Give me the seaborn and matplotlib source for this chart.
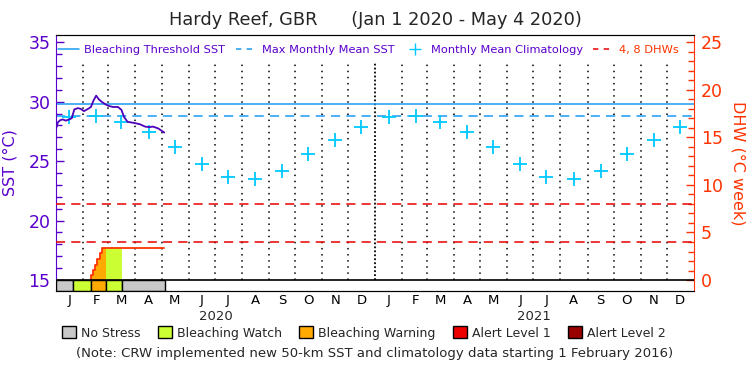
import matplotlib
matplotlib.use("Agg")
import matplotlib.pyplot as plt
import matplotlib.dates as mdates
import matplotlib.transforms as mtransforms
from matplotlib.lines import Line2D
from matplotlib.patches import Patch
import numpy as np
import pandas as pd
import seaborn as sns

# daily SST (deg C)
sst_dates = ["2020-01-01", "2020-01-03", "2020-01-06", "2020-01-09", "2020-01-12",
             "2020-01-16", "2020-01-19", "2020-01-22", "2020-01-26", "2020-01-29",
             "2020-02-02", "2020-02-07", "2020-02-10", "2020-02-13", "2020-02-16",
             "2020-02-19", "2020-02-22", "2020-02-26", "2020-03-01", "2020-03-06",
             "2020-03-12", "2020-03-16", "2020-03-19", "2020-03-23", "2020-03-31",
             "2020-04-06", "2020-04-12", "2020-04-17", "2020-04-21", "2020-04-27",
             "2020-05-02", "2020-05-04"]
sst_values = [27.7, 28.25, 28.45, 28.5, 28.4,
              28.5, 28.6, 29.35, 29.45, 29.4,
              29.2, 29.4, 29.55, 30.1, 30.5,
              30.2, 30.0, 29.8, 29.65, 29.55,
              29.55, 29.3, 28.7, 28.3, 28.2,
              28.1, 27.9, 27.85, 27.9, 27.75,
              27.5, 27.4]

# monthly mean climatology (same for both years)
month_letters = ["J", "F", "M", "A", "M", "J", "J", "A", "S", "O", "N", "D"]
clim_monthly = [28.72, 28.78, 28.25, 27.41, 26.15, 24.72,
                23.68, 23.5, 24.2, 25.58, 26.8, 27.83]
years = [2020, 2021]

mmm = 28.78
bleaching_threshold = mmm + 1.0

# degree heating weeks (step values)
dhw_dates = ["2020-02-10", "2020-02-10", "2020-02-12", "2020-02-15", "2020-02-17",
             "2020-02-20", "2020-02-23", "2020-02-27", "2020-03-17", "2020-05-04"]
dhw_values = [0.0, 0.53, 1.05, 1.58, 2.17, 2.8, 3.33, 3.33, 3.33, 3.33]
dhw_levels = [4, 8]

# stress level periods
stress_starts = ["2020-01-01", "2020-01-21", "2020-02-10", "2020-02-27", "2020-03-17"]
stress_ends = ["2020-01-21", "2020-02-10", "2020-02-27", "2020-03-17", "2020-05-05"]
stress_names = ["No Stress", "Bleaching Watch", "Bleaching Warning", "Bleaching Watch", "No Stress"]

legend_names = ["No Stress", "Bleaching Watch", "Bleaching Warning", "Alert Level 1", "Alert Level 2"]
stress_colors = {"No Stress": "#c8c8c8", "Bleaching Watch": "#ccff33",
                 "Bleaching Warning": "#ffaa00", "Alert Level 1": "#ee0000",
                 "Alert Level 2": "#990000"}

purple = "#5a00cc"
sst_purple = "#4e00bb"
orange_red = "#ff3300"
blue = "#1a9bf0"
cyan = "#00c8ff"
dash_red = "#e60000"

sns.set_style("white")
plt.rcParams["font.family"] = ["DejaVu Sans"]

sst_lo, sst_hi = 14.08, 35.6


def to_dhw(v):
    return (v - 15) * 1.25


fig = plt.figure(figsize=(7.5, 3.75), dpi=100)
ax = fig.add_axes([0.0747, 0.224, 0.8506, 0.6827])
ax2 = ax.twinx()

x_start = pd.Timestamp("2020-01-01")
x_end = pd.Timestamp("2022-01-01")
ax.set_xlim(x_start, x_end)
ax.set_ylim(sst_lo, sst_hi)
ax2.set_ylim(to_dhw(sst_lo), to_dhw(sst_hi))

# month grid lines
month_starts = pd.date_range("2020-02-01", "2021-12-01", freq="MS")
for d in month_starts:
    if d.month == 1:
        ax.vlines(d, 15, 33.3, colors="black", linestyles=(0, (1, 1.2)), linewidth=1.3)
    else:
        ax.vlines(d, 15, 33.3, colors="black", linestyles=(0, (1, 3)), linewidth=1.1)

# threshold lines
ax.axhline(bleaching_threshold, color=blue, linewidth=1.1)
ax.axhline(mmm, color=blue, linewidth=1.1, linestyle=(0, (6, 4)))

# climatology crosses
clim_df = pd.DataFrame({
    "date": [pd.Timestamp(y, m + 1, 16) for y in years for m in range(12)],
    "sst": clim_monthly * len(years),
})
sns.scatterplot(data=clim_df, x="date", y="sst", ax=ax, marker="+", s=110,
                color=cyan, linewidth=1.3, zorder=3)

# SST line
sst_df = pd.DataFrame({"date": pd.to_datetime(sst_dates), "sst": sst_values})
sns.lineplot(data=sst_df, x="date", y="sst", ax=ax, color=sst_purple, linewidth=1.3, zorder=4)

# DHW level lines
for lev in dhw_levels:
    ax2.axhline(lev, color=dash_red, linewidth=1.1, linestyle=(0, (6, 4)))

# DHW fill coloured by stress level
dhw_x = pd.to_datetime(dhw_dates)
dhw_y = np.array(dhw_values)
for s, e, name in zip(stress_starts, stress_ends, stress_names):
    if name == "No Stress":
        continue
    mask = (dhw_x >= pd.Timestamp(s)) & (dhw_x <= pd.Timestamp(e))
    if mask.sum() > 1:
        ax2.fill_between(dhw_x[mask], 0, dhw_y[mask], step="post",
                         color=stress_colors[name], linewidth=0, zorder=2)

ax2.plot(dhw_x, dhw_y, drawstyle="steps-post", color=orange_red, linewidth=1.3, zorder=3)

# stress bar along the bottom
for s, e, name in zip(stress_starts, stress_ends, stress_names):
    s_t, e_t = pd.Timestamp(s), pd.Timestamp(e)
    ax2.bar(s_t, to_dhw(15) - to_dhw(sst_lo), width=(e_t - s_t).days, bottom=to_dhw(sst_lo),
            align="edge", color=stress_colors[name], edgecolor="black", linewidth=1, zorder=2)
ax2.axhline(0, color="black", linewidth=1.2, zorder=4)

# axes styling
for a in (ax, ax2):
    a.grid(False)
    a.set_xlabel("")
    a.spines["top"].set_color("black")
    a.spines["bottom"].set_color("black")
ax.spines["left"].set_color(purple)
ax2.spines["left"].set_visible(False)
ax2.spines["right"].set_color(orange_red)
ax.spines["right"].set_visible(False)

ax.set_yticks([15, 20, 25, 30, 35])
ax.set_yticks(np.arange(15, 36, 1), minor=True)
ax.tick_params(axis="y", which="both", direction="in", colors=purple, labelsize=12.5, pad=4)
ax.tick_params(axis="y", which="major", length=6, width=1)
ax.tick_params(axis="y", which="minor", length=4, width=1)
ax.set_ylabel("SST (°C)", color=purple, fontsize=11.5, labelpad=8)

ax2.set_yticks([0, 5, 10, 15, 20, 25])
ax2.set_yticks(np.arange(0, 26, 1), minor=True)
ax2.tick_params(axis="y", which="both", direction="in", colors=orange_red, labelsize=12.5, pad=5)
ax2.tick_params(axis="y", which="major", length=6, width=1)
ax2.tick_params(axis="y", which="minor", length=4, width=1)
ax2.set_ylabel("DHW (°C week)", color=orange_red, fontsize=11.5, rotation=270, labelpad=16)

ax.xaxis.set_major_locator(mdates.MonthLocator())
ax.xaxis.set_major_formatter(plt.NullFormatter())
ax.xaxis.set_minor_locator(mdates.MonthLocator(bymonthday=16))
ax.xaxis.set_minor_formatter(plt.FuncFormatter(lambda v, p: month_letters[mdates.num2date(v).month - 1]))
ax.tick_params(axis="x", which="both", length=0, labelsize=9.5, pad=2, colors="black")

trans = mtransforms.blended_transform_factory(ax.transData, ax.transAxes)
for y in years:
    ax.text(pd.Timestamp(y, 7, 2), -0.1, str(y), transform=trans, ha="center", va="center",
            fontsize=9.5)

fig.text(0.5, 0.947, "Hardy Reef, GBR      (Jan 1 2020 - May 4 2020)", ha="center",
         va="center", fontsize=12.8)

# top legend
handles = [Line2D([], [], color=blue, linewidth=1.1),
           Line2D([], [], color=blue, linewidth=1.1, linestyle=(0, (3.5, 3.5))),
           Line2D([], [], color=cyan, marker="+", markersize=8, linestyle="none"),
           Line2D([], [], color=dash_red, linewidth=1.1, linestyle=(0, (3.5, 3.5)))]
labels = ["Bleaching Threshold SST", "Max Monthly Mean SST", "Monthly Mean Climatology", "4, 8 DHWs"]
ax2.legend(handles, labels, loc="center", bbox_to_anchor=(0.49, 0.94), ncol=4, frameon=False,
           fontsize=8.2, labelcolor=[purple, purple, purple, orange_red], handlelength=1.8,
           handletextpad=0.5, columnspacing=0.9, borderaxespad=0)

# bottom stress legend
patches = [Patch(facecolor=stress_colors[n], edgecolor="black", linewidth=1) for n in legend_names]
fig.legend(patches, legend_names, loc="center", bbox_to_anchor=(0.485, 0.112), ncol=5,
           frameon=False, fontsize=9, handlelength=1.1, handleheight=1.1,
           handletextpad=0.4, columnspacing=1.4)
fig.text(0.5, 0.056, "(Note: CRW implemented new 50-km SST and climatology data starting 1 February 2016)",
         ha="center", va="center", fontsize=9.5)

fig.savefig("out.png", dpi=100)
